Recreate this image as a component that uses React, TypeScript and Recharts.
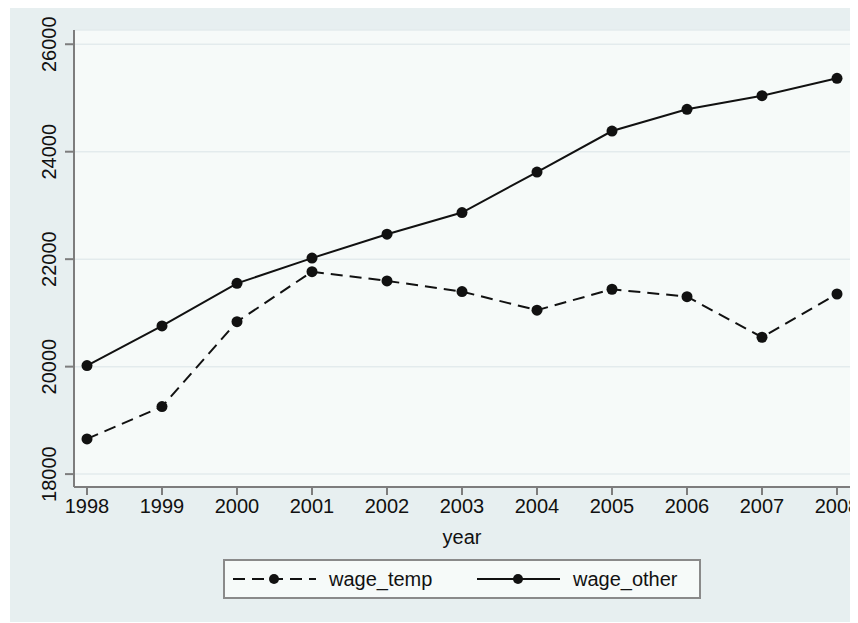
import { CartesianGrid, Legend, Line, LineChart, XAxis, YAxis } from "recharts";

const years = [1998, 1999, 2000, 2001, 2002, 2003, 2004, 2005, 2006, 2007, 2008];
const wageTemp = [18655, 19256, 20837, 21767, 21596, 21397, 21051, 21440, 21302, 20547, 21352];
const wageOther = [20020, 20757, 21550, 22020, 22465, 22867, 23622, 24385, 24789, 25042, 25366];
const yTicks = [18000, 20000, 22000, 24000, 26000];
const seriesOrder = ["wage_temp", "wage_other"];

const data = years.map((year, i) => ({
  year,
  wage_temp: wageTemp[i],
  wage_other: wageOther[i],
}));

const FONT = "'Liberation Sans', Arial, sans-serif";
const FS = 20;
const AXIS = "#7d7d7d";
const INK = "#111";

function YTick({ x, y, payload }: any) {
  return (
    <text
      x={x - 7}
      y={y}
      transform={`rotate(-90 ${x - 7} ${y})`}
      textAnchor="middle"
      fontSize={FS}
      fontFamily={FONT}
      fill={INK}
    >
      {payload.value}
    </text>
  );
}

function LegendBox({ payload }: any) {
  const items = [...(payload ?? [])].sort(
    (a: any, b: any) => seriesOrder.indexOf(a.value) - seriesOrder.indexOf(b.value)
  );
  return (
    <svg width={478} height={40} style={{ display: "block" }}>
      <rect x={1} y={1} width={476} height={38} fill="#f6faf9" stroke="#8a8a8a" strokeWidth={2} />
      {items.map((it: any, i: number) => {
        const x0 = 10 + i * 244;
        const dashed = it.payload?.strokeDasharray;
        return (
          <g key={it.value}>
            <line x1={x0} x2={x0 + 83} y1={20} y2={20} stroke={INK} strokeWidth={2} strokeDasharray={dashed} />
            <circle cx={x0 + 41} cy={20} r={5} fill={INK} />
            <text x={x0 + 96} y={27} fontSize={FS} fontFamily={FONT} fill={INK}>
              {it.value}
            </text>
          </g>
        );
      })}
    </svg>
  );
}

export default function App() {
  return (
    <div style={{ marginLeft: 2, marginTop: -1, width: 848, height: 615, background: "#e7eff0" }}>
      <LineChart width={848} height={615} data={data} margin={{ top: 23, right: 8, bottom: 71, left: 0 }}>
        <CartesianGrid vertical={false} fill="#f6faf9" stroke="#e3ebed" strokeWidth={1.5} />
        <XAxis
          dataKey="year"
          type="number"
          domain={[1998, 2008]}
          ticks={years}
          padding={{ left: 13, right: 13 }}
          height={64}
          tickSize={8}
          tickMargin={4}
          stroke={AXIS}
          strokeWidth={2}
          tick={{ fontSize: FS, fontFamily: FONT, fill: INK }}
          label={{ value: "year", position: "insideBottom", offset: 7, fontSize: FS, fontFamily: FONT, fill: INK }}
        />
        <YAxis
          type="number"
          domain={[17760, 26265]}
          ticks={yTicks}
          width={64}
          tickSize={9}
          stroke={AXIS}
          strokeWidth={2}
          tick={<YTick />}
        />
        <Legend
          verticalAlign="middle"
          align="center"
          wrapperStyle={{ left: 213, top: 552, width: 478, height: 40 }}
          content={<LegendBox />}
        />
        <Line
          dataKey="wage_temp"
          stroke={INK}
          strokeWidth={2}
          strokeDasharray="12 7"
          dot={{ r: 5.5, fill: INK, stroke: INK, strokeWidth: 0 }}
          isAnimationActive={false}
        />
        <Line
          dataKey="wage_other"
          stroke={INK}
          strokeWidth={2}
          dot={{ r: 5.5, fill: INK, stroke: INK, strokeWidth: 0 }}
          isAnimationActive={false}
        />
      </LineChart>
    </div>
  );
}
